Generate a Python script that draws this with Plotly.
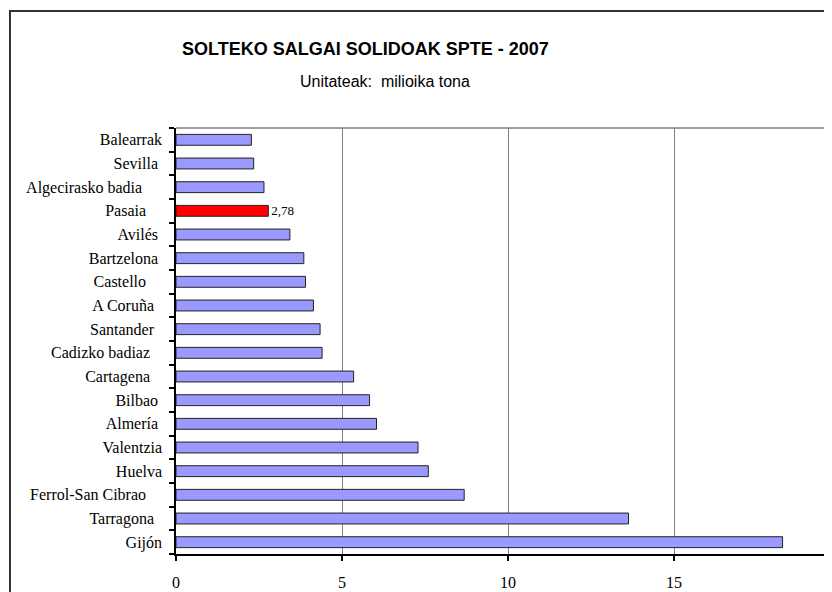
import plotly.graph_objects as go

# Data (top to bottom as shown in the chart)
ports = ["Balearrak", "Sevilla", "Algecirasko badia", "Pasaia", "Avilés", "Bartzelona",
         "Castello", "A Coruña", "Santander", "Cadizko badiaz", "Cartagena", "Bilbao",
         "Almería", "Valentzia", "Huelva", "Ferrol-San Cibrao", "Tarragona", "Gijón"]
values = [2.27, 2.34, 2.65, 2.78, 3.43, 3.85,
          3.90, 4.14, 4.34, 4.40, 5.35, 5.83,
          6.04, 7.29, 7.60, 8.68, 13.63, 18.27]
highlight = "Pasaia"
x_ticks = [0, 5, 10, 15, 20]

# trailing blanks present in the original label cells
label_pad = {"Sevilla": 1, "Algecirasko badia": 5, "Pasaia": 4, "Avilés": 1, "Bartzelona": 1,
             "Castello": 4, "A Coruña": 2, "Santander": 2, "Cadizko badiaz": 3, "Cartagena": 3,
             "Bilbao": 1, "Almería": 1, "Ferrol-San Cibrao": 4, "Tarragona": 2}

W, H = 832, 592
ML, MT, MB = 168, 120, 46
PW, PH = W - ML, H - MT - MB
X_MAX = 20 * PW / 664.0

colors = ["#FF0000" if p == highlight else "#9999FF" for p in ports]
texts = [f"{v:.2f}".replace(".", ",") if p == highlight else "" for p, v in zip(ports, values)]
ticktext = [p + "\u00a0" * label_pad.get(p, 0) for p in ports]

SERIF = "Liberation Serif, Times New Roman, serif"
SANS = "Liberation Sans, Arial, sans-serif"

fig = go.Figure(go.Bar(
    y=ports, x=values, orientation="h",
    marker=dict(color=colors, line=dict(color="#222222", width=1)),
    text=texts, textposition="outside", cliponaxis=False, constraintext="none",
    textfont=dict(family=SERIF, size=13, color="black"),
))

def px_x(p):
    return (p - ML) / PW

def px_y(p):
    return (H - MB - p) / PH

fig.update_layout(
    width=W, height=H,
    margin=dict(l=ML, r=0, t=MT, b=MB),
    paper_bgcolor="white", plot_bgcolor="white",
    bargap=0.54, showlegend=False,
    xaxis=dict(range=[0, X_MAX], tickvals=x_ticks, showgrid=True, gridcolor="#808080", gridwidth=1,
               zeroline=False, showline=True, linecolor="black", linewidth=1.5,
               ticks="outside", ticklen=5, tickcolor="black", tickwidth=1.5, ticklabelstandoff=8,
               tickfont=dict(family=SERIF, size=16, color="black")),
    yaxis=dict(categoryorder="array", categoryarray=ports, autorange="reversed",
               tickvals=ports, ticktext=ticktext, tickson="boundaries",
               showgrid=False, zeroline=False, showline=True, linecolor="black", linewidth=1.5,
               ticks="outside", ticklen=5, tickcolor="black", tickwidth=1.5, ticklabelstandoff=9,
               tickfont=dict(family=SERIF, size=16, color="black")),
    shapes=[
        # plot area top border
        dict(type="line", xref="paper", yref="paper", x0=0, x1=1.05, y0=1, y1=1,
             line=dict(color="#808080", width=1.5)),
        # chart frame
        dict(type="rect", xref="paper", yref="paper", x0=px_x(2), x1=1.2, y0=-0.3, y1=px_y(3),
             line=dict(color="#333333", width=2)),
    ],
    annotations=[
        dict(text="<b>SOLTEKO SALGAI SOLIDOAK SPTE - 2007</b>", xref="paper", yref="paper",
             x=px_x(357), y=px_y(41), xanchor="center", yanchor="middle", showarrow=False,
             font=dict(family=SANS, size=18, color="black")),
        dict(text="Unitateak:&nbsp; milioika tona", xref="paper", yref="paper",
             x=px_x(290), y=px_y(73), xanchor="left", yanchor="middle", showarrow=False,
             font=dict(family=SANS, size=16, color="black")),
        dict(text=str(x_ticks[-1]), xref="paper", yref="paper",
             x=x_ticks[-1] / X_MAX, y=0, yshift=-26, xanchor="center", yanchor="top", showarrow=False,
             font=dict(family=SERIF, size=16, color="black")),
    ],
)

fig.write_html("out.html")
